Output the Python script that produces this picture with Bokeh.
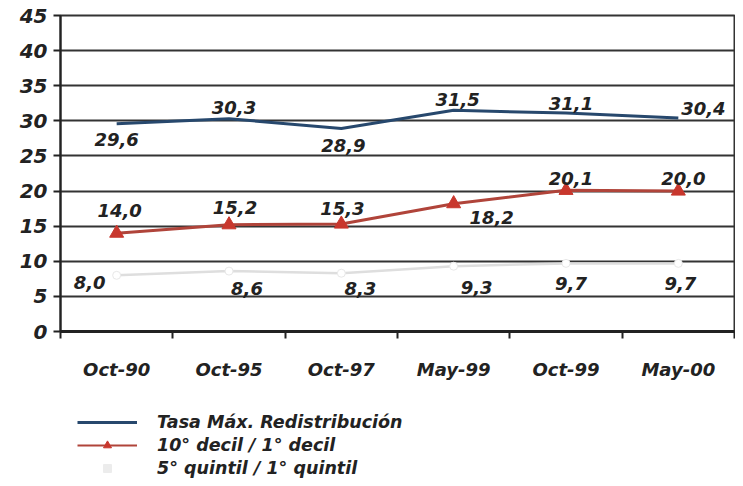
from bokeh.plotting import figure
from bokeh.models import (ColumnDataSource, LabelSet, FixedTicker, Legend, LegendItem, Range1d)
from bokeh.layouts import column
from bokeh.core.properties import value
from bokeh.embed import file_html
from bokeh.resources import INLINE

# ---- data ----
categories = ["Oct-90", "Oct-95", "Oct-97", "May-99", "Oct-99", "May-00"]
tasa_max = [29.6, 30.3, 28.9, 31.5, 31.1, 30.4]
decil_ratio = [14.0, 15.2, 15.3, 18.2, 20.1, 20.0]
quintil_ratio = [8.0, 8.6, 8.3, 9.3, 9.7, 9.7]
y_ticks = [0, 5, 10, 15, 20, 25, 30, 35, 40, 45]
series_names = ["Tasa Máx. Redistribución", "10° decil / 1° decil", "5° quintil / 1° quintil"]

# label offsets (screen px) — styling only
tasa_dx = [0, 5, 2, 4, 5, 25]
tasa_dy = [-16, 11, -17, 11, 10, 10]
decil_dx = [3, 6, 1, 38, 5, 5]
decil_dy = [23, 17, 16, -14, 12, 13]
quint_dx = [-27, 18, 19, 23, 5, 2]
quint_dy = [-7, -17, -15, -21, -20, -20]

FONT = "DejaVu Sans"
BLUE = "#27486d"
RED_LINE = "#b0443a"
RED_MARK = "#c8372d"
GREY_LINE = "#dedede"
xs = list(range(1, len(categories) + 1))

def fmt(v):
    return f"{v:.1f}".replace(".", ",")

p = figure(width=735, height=395, output_backend="svg", toolbar_location=None,
           x_range=Range1d(0.5, len(categories) + 0.5), y_range=Range1d(0, 45),
           min_border_left=60, min_border_right=1, min_border_top=15, min_border_bottom=64)
p.outline_line_color = "#333333"
p.outline_line_width = 2
p.background_fill_color = "white"
p.border_fill_color = "white"

# grid
p.xgrid.grid_line_color = None
p.ygrid.grid_line_color = "#333333"
p.ygrid.grid_line_width = 2
p.ygrid.ticker = FixedTicker(ticks=y_ticks)

# y axis
p.yaxis.ticker = FixedTicker(ticks=y_ticks)
p.yaxis.axis_line_color = "#222222"
p.yaxis.axis_line_width = 2
p.yaxis.major_tick_line_color = "#222222"
p.yaxis.major_tick_line_width = 2
p.yaxis.major_tick_out = 7
p.yaxis.major_tick_in = 0
p.yaxis.minor_tick_line_color = None
p.yaxis.major_label_text_font = FONT
p.yaxis.major_label_text_font_style = "bold italic"
p.yaxis.major_label_text_font_size = "20px"
p.yaxis.major_label_text_color = "#222222"
p.yaxis.major_label_standoff = 6

# x axis
boundaries = [x - 0.5 for x in xs] + [xs[-1] + 0.5]
p.xaxis.ticker = FixedTicker(ticks=xs, minor_ticks=boundaries)
p.xaxis.major_label_overrides = {x: c for x, c in zip(xs, categories)}
p.xaxis.axis_line_color = "#222222"
p.xaxis.axis_line_width = 3
p.xaxis.major_tick_line_color = None
p.xaxis.major_tick_out = 6
p.xaxis.minor_tick_line_color = "#222222"
p.xaxis.minor_tick_line_width = 2
p.xaxis.minor_tick_out = 7
p.xaxis.minor_tick_in = 0
p.xaxis.major_label_text_font = FONT
p.xaxis.major_label_text_font_style = "bold italic"
p.xaxis.major_label_text_font_size = "18px"
p.xaxis.major_label_text_color = "#222222"
p.xaxis.major_label_standoff = 20

# series
src_t = ColumnDataSource(dict(x=xs, y=tasa_max, t=[fmt(v) for v in tasa_max], dx=tasa_dx, dy=tasa_dy))
src_d = ColumnDataSource(dict(x=xs, y=decil_ratio, t=[fmt(v) for v in decil_ratio], dx=decil_dx, dy=decil_dy))
src_q = ColumnDataSource(dict(x=xs, y=quintil_ratio, t=[fmt(v) for v in quintil_ratio], dx=quint_dx, dy=quint_dy))

p.line("x", "y", source=src_q, line_color=GREY_LINE, line_width=2.5)
p.scatter("x", "y", source=src_q, marker="circle", size=8, fill_color="white", line_color="#e8e8e8")
p.line("x", "y", source=src_t, line_color=BLUE, line_width=3)
p.line("x", "y", source=src_d, line_color=RED_LINE, line_width=3)
p.scatter("x", "y", source=src_d, marker="triangle", size=14, fill_color=RED_MARK, line_color=RED_MARK)

for src in (src_t, src_d, src_q):
    p.add_layout(LabelSet(x="x", y="y", text="t", source=src, x_offset="dx", y_offset="dy",
                          text_align="center", text_baseline="middle",
                          text_font=value(FONT), text_font_style="bold italic",
                          text_font_size="18px", text_color="#222222"))

# ---- legend strip below the chart ----
lg = figure(width=735, height=83, output_backend="svg", toolbar_location=None,
            x_axis_type=None, y_axis_type=None, x_range=Range1d(0, 1), y_range=Range1d(0, 1),
            min_border=0)
lg.outline_line_color = None
lg.xgrid.grid_line_color = None
lg.ygrid.grid_line_color = None
lg.background_fill_color = "white"
lg.border_fill_color = "white"

# legend-only renderers, kept outside the visible range of this strip
off_x = [-10, -9]
off_y = [-10, -10]
l_t = lg.line(x=off_x, y=off_y, line_color=BLUE, line_width=3)
l_d = lg.line(x=off_x, y=off_y, line_color=RED_LINE, line_width=2)
m_d = lg.scatter(x=off_x[:1], y=off_y[:1], marker="triangle", size=14, fill_color=RED_MARK, line_color=RED_MARK)
m_q = lg.scatter(x=off_x[:1], y=off_y[:1], marker="square", size=12, fill_color="#ececec", line_color="#ececec")

legend = Legend(items=[
    LegendItem(label=series_names[0], renderers=[l_t]),
    LegendItem(label=series_names[1], renderers=[l_d, m_d]),
    LegendItem(label=series_names[2], renderers=[m_q]),
], location="top_left", orientation="vertical")
legend.background_fill_alpha = 0
legend.border_line_color = None
legend.label_text_font = FONT
legend.label_text_font_style = "bold italic"
legend.label_text_font_size = "17.5px"
legend.label_text_color = "#222222"
legend.glyph_width = 60
legend.glyph_height = 20
legend.label_height = 20
legend.label_standoff = 20
legend.spacing = 3
legend.padding = 0
legend.margin = 17
lg.add_layout(legend, "center")

layout = column(p, lg, spacing=0)
open("out.html", "w").write(file_html(layout, INLINE))
